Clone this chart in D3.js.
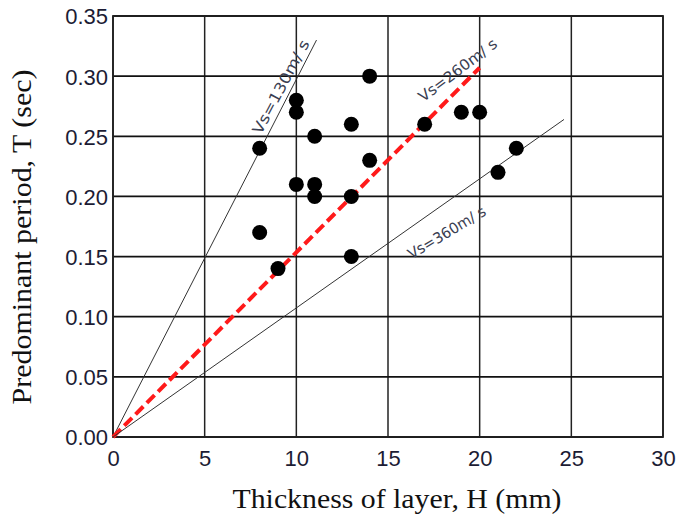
<!DOCTYPE html>
<html>
<head>
<meta charset="utf-8">
<script src="https://cdn.jsdelivr.net/npm/d3@7"></script>
<style>
  body { margin: 0; background: #fff; }
</style>
</head>
<body>
<div id="chart"></div>
<script>
    // Observed points: thickness H and predominant period T
    const thickness = [8, 8, 9, 10, 10, 10, 11, 11, 11, 13, 13, 13, 14, 14, 17, 19, 20, 21, 22];
    const period    = [0.24, 0.17, 0.14, 0.28, 0.27, 0.21, 0.25, 0.21, 0.20, 0.26, 0.20, 0.15, 0.30, 0.23, 0.26, 0.27, 0.27, 0.22, 0.24];

    // Reference lines for shear wave velocity (start / end points)
    const refNames = ["Vs=130m/ s", "Vs=260m/ s", "Vs=360m/ s"];
    const refEndH  = [11.1, 20.0, 24.6];
    const refEndT  = [0.330, 0.307, 0.264];

    const xTicks = [0, 5, 10, 15, 20, 25, 30];
    const yTicks = [0, 0.05, 0.10, 0.15, 0.20, 0.25, 0.30, 0.35];

    const points = thickness.map((h, i) => ({ h: h, t: period[i] }));

    // Chart dimensions and margins
    const margin = { top: 16, right: 13, bottom: 78, left: 113 };
    const width = 676 - margin.left - margin.right;
    const height = 515 - margin.top - margin.bottom;

    const svg = d3.select("#chart")
      .append("svg")
        .attr("width", 676)
        .attr("height", 515)
      .append("g")
        .attr("transform", `translate(${margin.left},${margin.top})`);

    const x = d3.scaleLinear().domain([0, 30]).range([0, width]);
    const y = d3.scaleLinear().domain([0, 0.35]).range([height, 0]);

    // Grid
    svg.append("g")
      .selectAll("line")
      .data(xTicks)
      .enter().append("line")
        .attr("x1", d => x(d)).attr("x2", d => x(d))
        .attr("y1", 0).attr("y2", height)
        .attr("stroke", "#222")
        .attr("stroke-width", 1.5);

    svg.append("g")
      .selectAll("line")
      .data(yTicks)
      .enter().append("line")
        .attr("x1", 0).attr("x2", width)
        .attr("y1", d => y(d)).attr("y2", d => y(d))
        .attr("stroke", "#111")
        .attr("stroke-width", 1.8);

    svg.append("rect")
      .attr("width", width)
      .attr("height", height)
      .attr("fill", "none")
      .attr("stroke", "#222")
      .attr("stroke-width", 1.8);

    // Axes (text only)
    const xAxis = svg.append("g")
      .attr("transform", `translate(0,${height})`)
      .call(d3.axisBottom(x).tickValues(xTicks).tickSize(0).tickPadding(13).tickFormat(d3.format("d")));
    const yAxis = svg.append("g")
      .call(d3.axisLeft(y).tickValues(yTicks).tickSize(0).tickPadding(5).tickFormat(d3.format(".2f")));

    [xAxis, yAxis].forEach(a => {
      a.select(".domain").remove();
      a.selectAll("text")
        .style("font-family", "'Liberation Sans', Arial, sans-serif")
        .style("font-size", "22px")
        .attr("fill", "#1c1c34");
    });
    yAxis.selectAll("text").attr("dy", "0.36em");

    // Reference lines
    const line = d3.line().x(d => x(d[0])).y(d => y(d[1]));
    refNames.forEach((name, i) => {
      const path = svg.append("path")
        .datum([[0, 0], [refEndH[i], refEndT[i]]])
        .attr("d", line)
        .attr("fill", "none");
      if (i === 1) {
        path.attr("stroke", "#ff1a1a")
          .attr("stroke-width", 4)
          .attr("stroke-dasharray", "11,5");
      } else {
        path.attr("stroke", "#333")
          .attr("stroke-width", 1);
      }
    });

    // Line labels
    const labelH = [9.15, 18.8, 18.2];
    const labelT = [0.291, 0.305, 0.170];
    const labelAngle = [-62, -37, -31];
    const labelLen = [104, 94, 88];
    refNames.forEach((name, i) => {
      svg.append("text")
        .attr("transform", `translate(${x(labelH[i])},${y(labelT[i])}) rotate(${labelAngle[i]})`)
        .attr("text-anchor", "middle")
        .attr("dy", "0.35em")
        .attr("textLength", labelLen[i])
        .attr("lengthAdjust", "spacingAndGlyphs")
        .style("font-family", "'DejaVu Sans', sans-serif")
        .style("font-size", "15px")
        .attr("fill", "#3a4052")
        .text(name);
    });

    // Dots
    svg.selectAll(".dot")
      .data(points)
      .enter()
      .append("circle")
        .attr("class", "dot")
        .attr("cx", d => x(d.h))
        .attr("cy", d => y(d.t))
        .attr("r", 7.5)
        .style("fill", "#000");

    // X axis label
    svg.append("text")
        .attr("x", 397 - margin.left)
        .attr("y", height + 71)
        .style("text-anchor", "middle")
        .attr("textLength", 329)
        .attr("lengthAdjust", "spacingAndGlyphs")
        .style("font-family", "'Liberation Serif', 'Times New Roman', serif")
        .style("font-size", "28px")
        .attr("fill", "#111")
        .text("Thickness of layer, H (mm)");

    // Y axis label
    svg.append("text")
        .attr("transform", "rotate(-90)")
        .attr("x", -(237 - margin.top))
        .attr("y", -margin.left + 31)
        .style("text-anchor", "middle")
        .attr("textLength", 335)
        .attr("lengthAdjust", "spacingAndGlyphs")
        .style("font-family", "'Liberation Serif', 'Times New Roman', serif")
        .style("font-size", "27px")
        .attr("fill", "#111")
        .text("Predominant period, T (sec)");
</script>
</body>
</html>
